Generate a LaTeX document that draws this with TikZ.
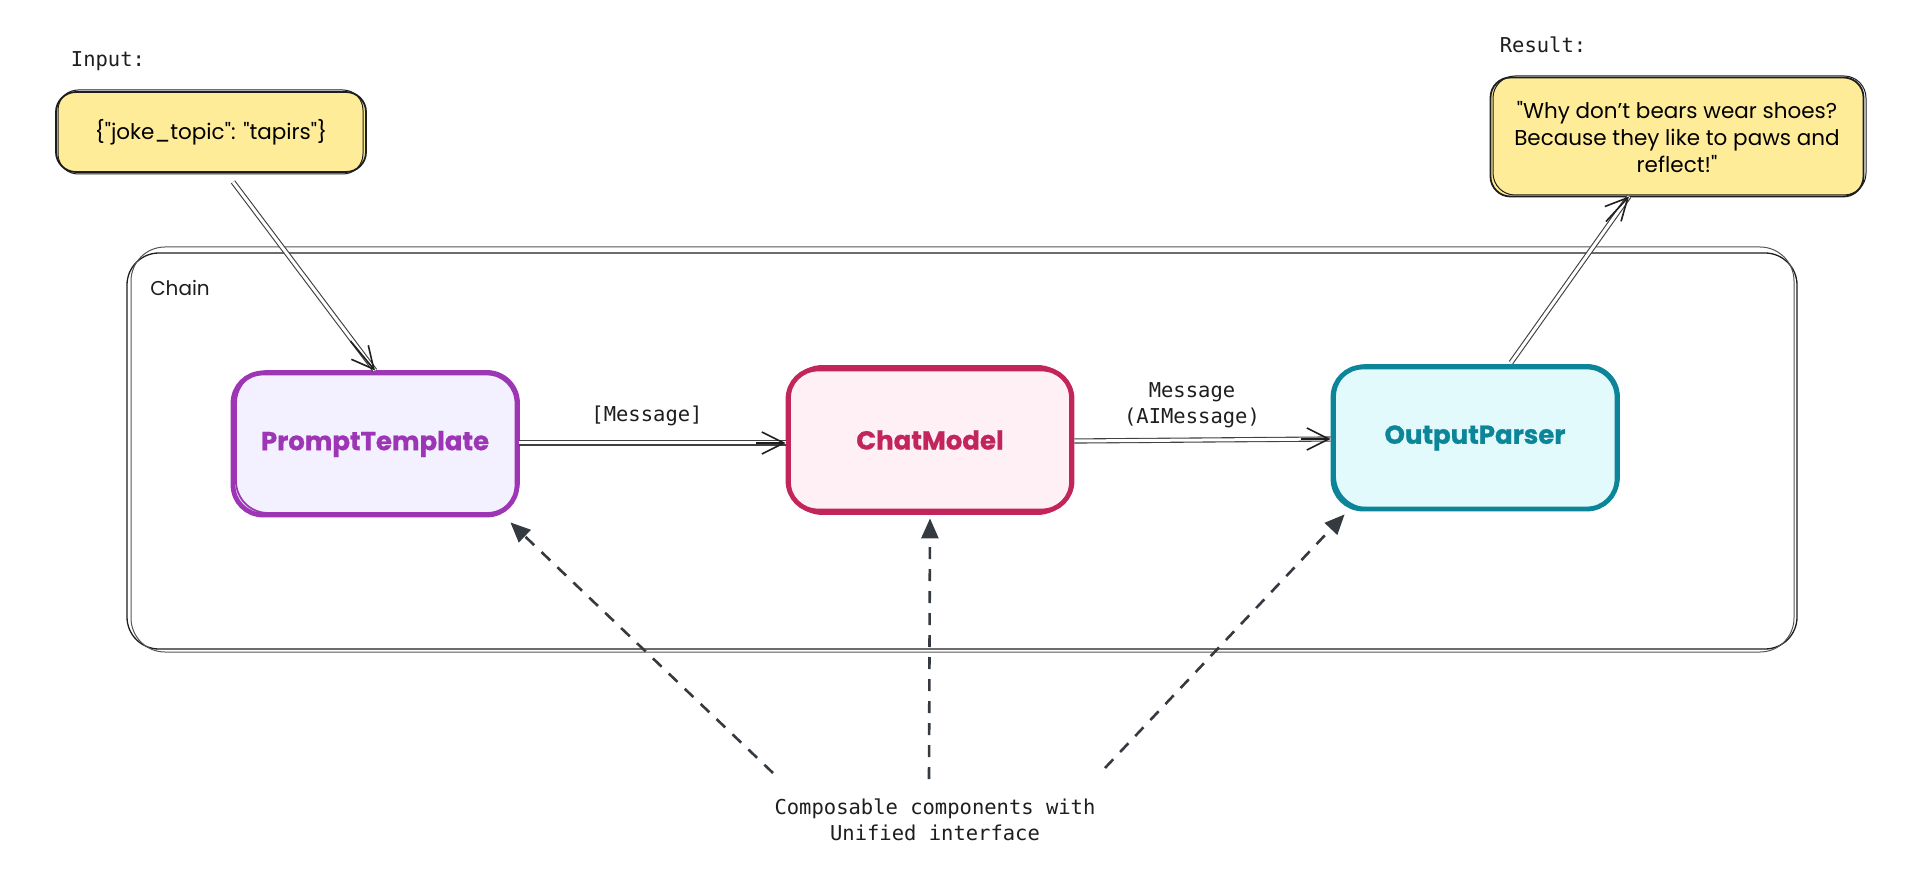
\documentclass[tikz,border=0pt]{standalone}
\usepackage{fontspec}
\usetikzlibrary{arrows.meta,calc}
\newfontfamily\handfont{Poppins}
\newfontfamily\labfont{Poppins}[BoldFeatures={FakeBold=0.8}]
\newfontfamily\monofont{DejaVu Sans Mono}
\definecolor{ink}{HTML}{1E1E1E}
\definecolor{yel}{HTML}{FFEC99}
\definecolor{ptc}{HTML}{9C36B5}
\definecolor{ptf}{HTML}{F3F0FF}
\definecolor{cmc}{HTML}{C2255C}
\definecolor{cmf}{HTML}{FFF0F6}
\definecolor{opc}{HTML}{0C8599}
\definecolor{opf}{HTML}{E3FAFC}
\definecolor{dashc}{HTML}{343A40}
\begin{document}
\begin{tikzpicture}[x=1pt,y=-1pt,
  comp/.style={line width=4.8pt, rounded corners=30pt, minimum width=284pt, minimum height=142pt, inner sep=0pt,
    font=\labfont\bfseries\fontsize{26}{30}\selectfont},
  note/.style={draw=ink, fill=yel, line width=1.8pt, rounded corners=20pt, inner sep=0pt, align=center,
    font=\handfont\fontsize{21.5}{27}\selectfont},
  mono/.style={font=\monofont\fontsize{20.5}{26}\selectfont, text=ink, align=center, inner sep=0pt},
  chainbox/.style={draw=ink, line width=1.3pt, rounded corners=32pt, minimum width=1670pt, minimum height=396pt, inner sep=0pt},
  flow/.style={draw=ink!85, line width=1.1pt, double=white, double distance=3pt},
  tipl/.style={draw=ink, line width=1.6pt, -{Straight Barb[length=22pt,width=22pt]}},
  dasharrow/.style={draw=dashc, line width=2.6pt, dash pattern=on 12pt off 10pt, -{Triangle[length=20pt,width=17pt]}},
  sketch/.style={line width=1.8pt}
]
\useasboundingbox[fill=white] (0,0) rectangle (1920,882);

% container
\node[chainbox] (chain) at (962,451) {};
\draw[ink!75, line width=1pt, rounded corners=34pt] (131,247) rectangle (1794,652);
\node[font=\handfont\fontsize{20}{24}\selectfont, text=ink, inner sep=0pt] (chainlbl) at (180,288) {Chain};

% notes
\node[mono] (inlbl) at (108,61) {Input:};
\node[note, minimum width=310pt, minimum height=80pt] (in) at (211,132) {\{"joke\_topic": "tapirs"\}};
\draw[ink, line width=1pt, rounded corners=20pt] (58,90) rectangle (363,174);

\node[mono] (reslbl) at (1543,45) {Result:};
\node[note, minimum width=373pt, minimum height=119pt] (res) at (1677,137)
  {"Why don’t bears wear shoes?\\Because they like to paws and\\reflect!"};
\draw[ink, line width=1pt, rounded corners=22pt] (1493,76) rectangle (1866,195);

% components
\node[comp, draw=ptc, fill=ptf, text=ptc] (pt) at (375,444) {PromptTemplate};
\draw[ptc, sketch, rounded corners=32pt] (236,371) rectangle (519,513);
\node[comp, draw=cmc, fill=cmf, text=cmc] (cm) at (930,440) {ChatModel};
\draw[cmc, sketch, rounded corners=32pt] (790,366) rectangle (1070,514);
\node[comp, draw=opc, fill=opf, text=opc] (op) at (1475,438) {OutputParser};
\draw[opc, sketch, rounded corners=32pt] (1335,365) rectangle (1619,508);

% edge labels
\node[mono] (l1) at (647,416) {[Message]};
\node[mono] (l2) at (1192,405) {Message\\(AIMessage)};

% flows
\draw[flow] ($(in.south)+(22,9)$) -- (pt.north);
\draw[tipl] ($(in.south)!0.85!(pt.north)$) -- (pt.north);
\draw[flow] ($(pt.east)+(0,-1)$) -- ($(cm.west)+(0,3)$);
\draw[tipl] ($(cm.west)+(-30,3)$) -- ($(cm.west)+(0,3)$);
\draw[flow] ($(cm.east)+(0,1)$) -- ($(op.west)+(0,1)$);
\draw[tipl] ($(op.west)+(-30,1)$) -- ($(op.west)+(0,1)$);
\draw[flow] ($(op.north)+(36,-2)$) -- ($(res.south)+(-48,-1)$);
\draw[tipl] ($(op.north)!0.85!($(res.south)+(-48,-1)$)$) -- ($(res.south)+(-48,-1)$);

% bottom note and dashed arrows
\node[mono] (bt) at (935,820) {Composable components with\\Unified interface};
\draw[dasharrow] ($(bt.center)+(-162,-47)$) -- ($(pt.south east)+(-9,5)$);
\draw[dasharrow] ($(bt.center)+(-6,-41)$) -- ($(cm.south)+(0,5)$);
\draw[dasharrow] ($(bt.center)+(170,-52)$) -- ($(op.south west)+(14,3)$);
\end{tikzpicture}
\end{document}
